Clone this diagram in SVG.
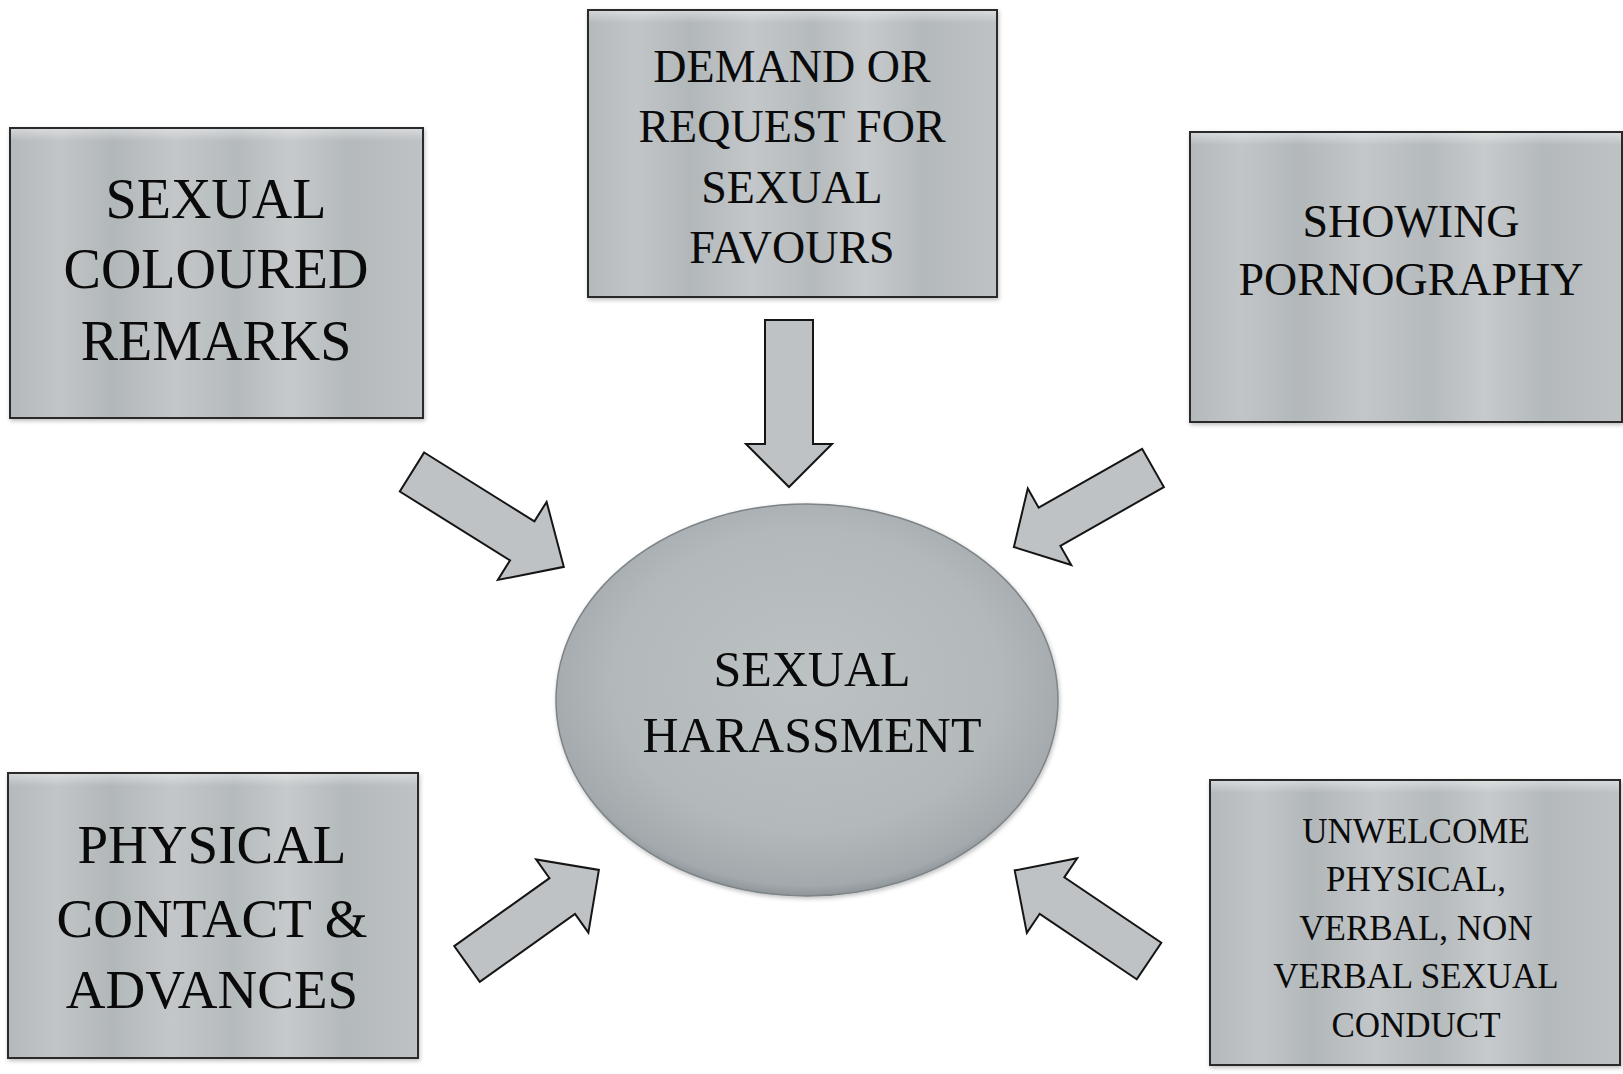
<svg xmlns="http://www.w3.org/2000/svg" width="1623" height="1074" viewBox="0 0 1623 1074">
<style>
.box{fill:url(#silver);stroke:#2b2b2b;stroke-width:2;filter:url(#sh)}
.hl{fill:url(#topHl)}
.t{font-family:"Liberation Serif","Times New Roman",serif;fill:#0a0a0a;text-anchor:middle}
.arrow{fill:#bfc2c4;stroke:#151515;stroke-width:2;stroke-linejoin:miter}
</style>
<defs>
<linearGradient id="silver" x1="0" y1="0" x2="1" y2="0">
<stop offset="0" stop-color="#b4b9bc"/>
<stop offset="0.12" stop-color="#c1c5c8"/>
<stop offset="0.25" stop-color="#b2b7ba"/>
<stop offset="0.4" stop-color="#c3c7ca"/>
<stop offset="0.55" stop-color="#b5babd"/>
<stop offset="0.68" stop-color="#c6cacc"/>
<stop offset="0.82" stop-color="#b4b9bc"/>
<stop offset="1" stop-color="#bec2c5"/>
</linearGradient>
<linearGradient id="topHl" x1="0" y1="0" x2="0" y2="1">
<stop offset="0" stop-color="#ffffff" stop-opacity="0.4"/>
<stop offset="1" stop-color="#ffffff" stop-opacity="0"/>
</linearGradient>
<radialGradient id="oval" cx="0.5" cy="0.45" r="0.55">
<stop offset="0" stop-color="#bcc1c4"/>
<stop offset="0.7" stop-color="#b3b8bb"/>
<stop offset="0.95" stop-color="#a3a9ac"/>
<stop offset="1" stop-color="#8f9699"/>
</radialGradient>
<filter id="sh" x="-5%" y="-5%" width="110%" height="110%">
<feDropShadow dx="1" dy="2" stdDeviation="2" flood-color="#000" flood-opacity="0.25"/>
</filter>
</defs>
<rect x="0" y="0" width="1623" height="1074" fill="#ffffff"/>

<g id="connectors">
<polygon class="arrow" transform="translate(412,472) rotate(32)" points="0,-23 130,-23 130,-46 179,0 130,46 130,23 0,23"/>
<polygon class="arrow" transform="translate(789,320) rotate(90)" points="0,-24 124,-24 124,-43 167,0 124,43 124,24 0,24"/>
<polygon class="arrow" transform="translate(1153,468) rotate(150.4)" points="0,-22 119,-22 119,-44 160,0 119,44 119,22 0,22"/>
<polygon class="arrow" transform="translate(467,964) rotate(-35.5)" points="0,-22 117,-22 117,-45 162,0 117,45 117,22 0,22"/>
<polygon class="arrow" transform="translate(1149,961) rotate(-146)" points="0,-22 117,-22 117,-45 162,0 117,45 117,22 0,22"/>
</g>

<g id="node-remarks">
<rect class="box" x="10" y="128" width="413" height="290"/>
<rect class="hl" x="11" y="129" width="411" height="12"/>
<text class="t" font-size="56"><tspan x="216" y="218">SEXUAL</tspan><tspan x="216" y="288">COLOURED</tspan><tspan x="216" y="360">REMARKS</tspan></text>
</g>

<g id="node-demand">
<rect class="box" x="588" y="10" width="409" height="287"/>
<rect class="hl" x="589" y="11" width="407" height="12"/>
<text class="t" font-size="46"><tspan x="792" y="82">DEMAND OR</tspan><tspan x="792" y="142">REQUEST FOR</tspan><tspan x="792" y="203">SEXUAL</tspan><tspan x="792" y="263">FAVOURS</tspan></text>
</g>

<g id="node-pornography">
<rect class="box" x="1190" y="132" width="432" height="290"/>
<rect class="hl" x="1191" y="133" width="430" height="12"/>
<text class="t" font-size="46"><tspan x="1411" y="237">SHOWING</tspan><tspan x="1411" y="295">PORNOGRAPHY</tspan></text>
</g>

<g id="node-harassment">
<ellipse cx="807" cy="700" rx="251" ry="196" fill="url(#oval)" stroke="#7d8487" stroke-width="1.5" filter="url(#sh)"/>
<text class="t" font-size="50"><tspan x="812" y="686">SEXUAL</tspan><tspan x="812" y="752">HARASSMENT</tspan></text>
</g>

<g id="node-physical">
<rect class="box" x="8" y="773" width="410" height="285"/>
<rect class="hl" x="9" y="774" width="408" height="12"/>
<text class="t" font-size="55"><tspan x="212" y="863">PHYSICAL</tspan><tspan x="212" y="937">CONTACT &amp;</tspan><tspan x="212" y="1008">ADVANCES</tspan></text>
</g>

<g id="node-unwelcome">
<rect class="box" x="1210" y="780" width="410" height="285"/>
<rect class="hl" x="1211" y="781" width="408" height="12"/>
<text class="t" font-size="35"><tspan x="1416" y="843">UNWELCOME</tspan><tspan x="1416" y="891">PHYSICAL,</tspan><tspan x="1416" y="940">VERBAL, NON</tspan><tspan x="1416" y="988">VERBAL SEXUAL</tspan><tspan x="1416" y="1037">CONDUCT</tspan></text>
</g>
</svg>
